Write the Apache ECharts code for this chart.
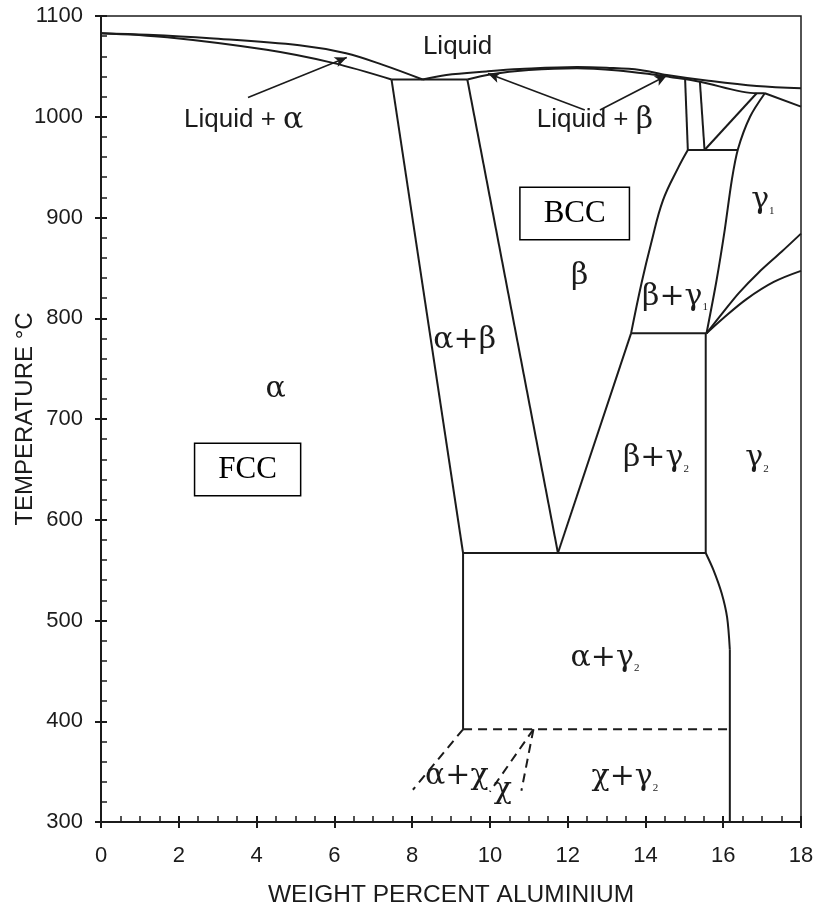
<!DOCTYPE html>
<html><head><meta charset="utf-8">
<script src="https://cdn.jsdelivr.net/npm/echarts@6/dist/echarts.min.js"></script>
<style>html,body{margin:0;padding:0;background:#fff}#c{width:817px;height:906px}</style>
</head><body><div id="c"></div>
<script>
// ---- axes ----
const xTicks = [0, 2, 4, 6, 8, 10, 12, 14, 16, 18];
const yTicks = [300, 400, 500, 600, 700, 800, 900, 1000, 1100];
const xTitle = 'WEIGHT PERCENT ALUMINIUM';
const yTitle = 'TEMPERATURE °C';

// ---- solid phase boundaries: [wt% Al, temperature °C] ----
const liquidusAlpha = [[0,1083],[1.2,1081.5],[2.8,1078],[5.1,1071],[6.3,1063],[7.25,1051.5],[8.27,1037]];
const solidusAlpha = [[0,1083],[1.7,1079],[4.26,1066.5],[5.96,1053.5],[7.47,1037]];
const eutecticLine = [[7.47,1037],[9.42,1037]];
const liquidusBeta = [[8.27,1037],[8.88,1041.5],[9.91,1045],[10.77,1047.3],[12.24,1049.4],[13.0,1048.6],[13.86,1046.5],[14.55,1041.5],[15.57,1036],[16.86,1030.5],[18,1028.3]];
const solidusBeta = [[9.42,1037],[10.0,1042],[11.0,1046.3],[12.24,1048.2],[13.3,1046],[14.1,1042.5],[14.63,1039.5],[15.4,1034.8],[16.86,1023.3],[17.07,1023.3]];
const gamma1Top = [[17.07,1023.3],[18,1010]];
const vertLeft = [[15.02,1037],[15.09,967]];
const vertRight = [[15.4,1034.8],[15.52,967]];
const line967 = [[15.09,967],[16.38,967]];
const diag967 = [[15.52,967],[16.86,1023.3]];
const gamma1Left = [[17.07,1023.3],[16.69,1000],[16.38,968],[16.22,937],[16.04,888],[15.83,838],[15.57,785]];
const betaRightLower = [[11.75,567],[13.63,785]];
const betaRightUpper = [[13.63,785],[13.9,835],[14.15,875],[14.45,917],[14.85,950],[15.09,967]];
const eutectoid785 = [[13.63,785],[15.57,785]];
const gamma2Left = [[15.55,785],[15.55,567]];
const line567 = [[9.31,567],[15.55,567]];
const gamma2Curve = [[15.55,567],[15.75,550],[15.96,527],[16.1,503],[16.17,471]];
const gamma2Vertical = [[16.17,471],[16.17,300]];
const alphaSolvus = [[7.47,1037],[9.31,567]];
const betaLeft = [[9.42,1037],[11.75,567]];
const alphaGammaLeft = [[9.31,567],[9.31,392]];
const gamma1UpperRight = [[15.57,785],[16.0,806],[16.4,825],[16.9,845],[17.5,866],[18,884]];
const gamma1LowerRight = [[15.57,785],[16.0,800],[16.6,819],[17.3,836],[18,847]];

// ---- dashed boundaries ----
const chiLine = [[9.31,392],[16.17,392]];
const alphaChiLeft = [[9.31,392],[8.02,332]];
const chiLeft = [[11.12,392],[10.0,330]];
const chiRight = [[11.12,392],[10.81,331]];

// ---- arrows: [tail, head] ----
const arrows = [
  [[3.78,1019],[6.32,1058.7]],
  [[12.44,1006.7],[9.95,1043]],
  [[12.83,1006.7],[14.55,1041]]
];

// ---- region labels ----
const labelPos = [[9.17,1069],[3.67,997],[12.7,997],[4.49,730],[12.31,842],[9.35,778],[14.76,821],[17.02,917],[14.27,661],[16.87,661],[12.96,463],[9.15,345],[10.33,332],[13.47,344]];
const labelText = ['{s|Liquid}','{s|Liquid + }{ga|α}','{s|Liquid + }{ga|β}','{g|α}','{g|β}','{g|α+β}','{g|β+γ}{sub|1}','{g|γ}{sub|1}','{g|β+γ}{sub|2}','{g|γ}{sub|2}','{g|α+γ}{sub|2}','{g|α+χ}','{g|χ}','{g|χ+γ}{sub|2}'];
const boxPos = [[12.18,904],[3.77,650]];
const boxText = ['BCC','FCC'];

const INK = '#1b1b1b';
const SANS = '"Liberation Sans", Arial, sans-serif';
const SERIF = '"Liberation Serif", "Times New Roman", serif';
const GREEK = '"DejaVu Serif", "Liberation Serif", serif';

const solid = [
  [liquidusAlpha,0.35],[solidusAlpha,0.35],[eutecticLine,0],[liquidusBeta,0.35],[solidusBeta,0.3],
  [gamma1Top,0],[vertLeft,0],[vertRight,0],[line967,0],[diag967,0],[gamma1Left,0.3],
  [betaRightLower,0],[betaRightUpper,0.4],[eutectoid785,0],[gamma2Left,0],[line567,0],[gamma2Curve,0.3],[gamma2Vertical,0],
  [alphaSolvus,0],[betaLeft,0],[alphaGammaLeft,0],[gamma1UpperRight,0.35],[gamma1LowerRight,0.35]
];
const dashed = [chiLine, alphaChiLeft, chiLeft, chiRight];

const series = [];
solid.forEach(([d, sm]) => series.push({
  type:'line', data:d, symbol:'none', smooth: sm || false, silent:true,
  lineStyle:{color:INK, width:2}, z:3
}));
dashed.forEach(d => series.push({
  type:'line', data:d, symbol:'none', silent:true,
  lineStyle:{color:INK, width:2, type:[9,6]}, z:3
}));
series.push({
  type:'line', data:[], silent:true,
  markLine:{
    silent:true, symbol:['none','arrow'], symbolSize:[8,12],
    label:{show:false}, lineStyle:{color:INK, width:1.6, type:'solid'},
    data: arrows.map(a => [{coord:a[0]},{coord:a[1]}]), animation:false
  }
});
series.push({
  type:'scatter', data:labelPos, symbolSize:1, itemStyle:{color:'rgba(0,0,0,0)', opacity:1}, silent:true, z:5,
  label:{show:true, position:'inside', formatter:p => labelText[p.dataIndex], color:INK,
    rich:{
      s:{fontFamily:SANS, fontSize:26, color:INK, lineHeight:32},
      ga:{fontFamily:GREEK, fontSize:30, color:INK, lineHeight:32},
      g:{fontFamily:GREEK, fontSize:30, color:INK, lineHeight:32},
      sub:{fontFamily:SERIF, fontSize:11, color:INK, lineHeight:30, verticalAlign:'bottom'}
    }}
});
series.push({
  type:'scatter', data:boxPos, symbolSize:1, itemStyle:{color:'rgba(0,0,0,0)', opacity:1}, silent:true, z:5,
  label:{show:true, position:'inside', formatter:p => boxText[p.dataIndex], color:'#000',
    fontFamily:SERIF, fontSize:31, lineHeight:31, padding:[10,23,10,23],
    borderColor:'#000', borderWidth:1.5, backgroundColor:'#fff'}
});

const axisCommon = {type:'value', splitLine:{show:false}};
const option = {
  animation:false,
  backgroundColor:'#fff',
  grid:{left:101, right:16, top:16, bottom:84, show:true, borderColor:INK, borderWidth:1.5, outerBoundsMode:'none', containLabel:false},
  xAxis:[
    Object.assign({}, axisCommon, {
      min:xTicks[0], max:xTicks[xTicks.length-1], interval:xTicks[1]-xTicks[0], position:'bottom',
      axisLine:{show:true, lineStyle:{color:INK, width:2}},
      axisTick:{show:true, inside:true, length:6, lineStyle:{color:INK, width:2}},
      minorTick:{show:true, splitNumber:4, length:6, lineStyle:{color:INK, width:1.5}},
      axisLabel:{show:true, fontFamily:SANS, fontSize:22, color:INK, margin:23, formatter:v => String(v)},
      name:xTitle, nameLocation:'middle', nameGap:61, nameMoveOverlap:false,
      nameTextStyle:{fontFamily:SANS, fontSize:24.5, color:INK}
    }),
    Object.assign({}, axisCommon, {
      min:xTicks[0], max:xTicks[xTicks.length-1], interval:xTicks[1]-xTicks[0], position:'bottom',
      axisLine:{show:false}, axisTick:{show:true, inside:false, length:6, lineStyle:{color:INK, width:2}},
      axisLabel:{show:false}
    })
  ],
  yAxis:[
    Object.assign({}, axisCommon, {
      min:yTicks[0], max:yTicks[yTicks.length-1], interval:yTicks[1]-yTicks[0], position:'left',
      axisLine:{show:true, lineStyle:{color:INK, width:2}},
      axisTick:{show:true, inside:true, length:6, lineStyle:{color:INK, width:2}},
      minorTick:{show:true, splitNumber:5, length:6, lineStyle:{color:INK, width:1.5}},
      axisLabel:{show:true, fontFamily:SANS, fontSize:22, color:INK, margin:18, formatter:v => String(v)},
      name:yTitle, nameLocation:'middle', nameGap:64, nameRotate:90, nameMoveOverlap:false,
      nameTextStyle:{fontFamily:SANS, fontSize:24, color:INK}
    }),
    Object.assign({}, axisCommon, {
      min:yTicks[0], max:yTicks[yTicks.length-1], interval:yTicks[1]-yTicks[0], position:'left',
      axisLine:{show:false}, axisTick:{show:true, inside:false, length:6, lineStyle:{color:INK, width:2}},
      axisLabel:{show:false}
    })
  ],
  series: series
};
const chart = echarts.init(document.getElementById('c'), null, {renderer:'canvas'});
chart.setOption(option);
</script>
</body></html>
